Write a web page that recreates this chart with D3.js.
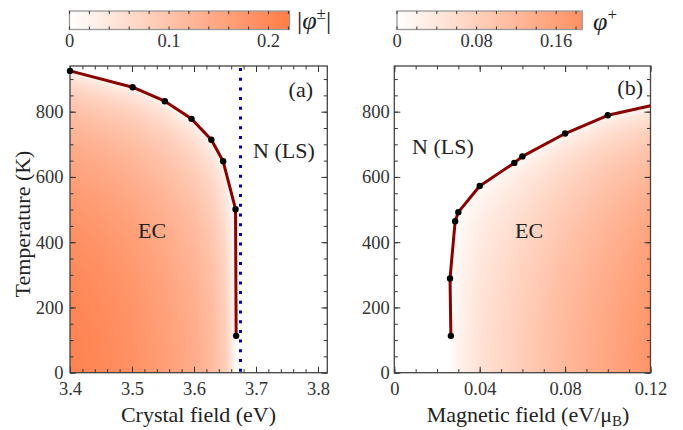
<!DOCTYPE html>
<html><head><meta charset="utf-8">
<script src="https://cdn.jsdelivr.net/npm/d3@7"></script>
<style>body{margin:0;background:#fff} svg text{font-family:"Liberation Serif","Tinos","Times New Roman","DejaVu Serif",serif !important}</style>
</head><body><svg id="c" width="683" height="430"></svg>
<script>
// ---- data ----
const crystalField = [3.4, 3.501, 3.553, 3.596, 3.628, 3.647, 3.667, 3.668];
const tempA = [925, 875, 832, 778, 714, 648, 501, 113];
const lsBoundary = 3.675;
const magField = [0.0265, 0.0261, 0.0285, 0.030, 0.040, 0.0562, 0.060, 0.080, 0.100];
const tempB = [113, 289, 464, 492, 572, 643, 663, 733, 789];
const magFieldEnd = [0.12];
const tempBEnd = [818];
const phiFieldA = [3.4, 3.45, 3.5, 3.55, 3.6, 3.63, 3.65, 3.66, 3.668];
const phiLowTA = [0.21, 0.2, 0.185, 0.165, 0.14, 0.115, 0.085, 0.045, 0];
const phiFieldB = [0.026, 0.03, 0.04, 0.06, 0.08, 0.1, 0.12];
const phiLowTB = [0, 0.02, 0.05, 0.085, 0.12, 0.15, 0.18];
const xTicksA = [3.4, 3.5, 3.6, 3.7, 3.8];
const xTicksB = [0, 0.04, 0.08, 0.12];
const yTicks = [0, 200, 400, 600, 800];
const cbTicksA = [0, 0.1, 0.2];
const cbTicksB = [0, 0.08, 0.16];

const FONT = '"Liberation Serif","Tinos","Times New Roman","DejaVu Serif",serif';
const svg = d3.select("#c");
const color = d3.scaleLinear().domain([0, 0.221]).range(["#ffffff", "#ff7c47"]).clamp(true);

function interp(xs, ys, x) {
  const n = xs.length;
  if (x <= xs[0]) return ys[0];
  if (x >= xs[n - 1]) return ys[n - 1];
  let i = 0;
  while (x > xs[i + 1]) i++;
  const t = (x - xs[i]) / (xs[i + 1] - xs[i]);
  return ys[i] + t * (ys[i + 1] - ys[i]);
}

const yTop = 66, yBot = 372.7;
const yScale = d3.scaleLinear().domain([0, 940]).range([yBot, yTop]);
const xA = d3.scaleLinear().domain([3.4, 3.815]).range([70, 327.3]);
const xB = d3.scaleLinear().domain([0, 0.12]).range([394.3, 650.5]);

const tcXA = crystalField.slice(0, 7), tcYA = tempA.slice(0, 7);
const tcXB = magField.slice(1).concat(magFieldEnd), tcYB = tempB.slice(1).concat(tempBEnd);

function heat(x, fieldFn) {
  const [x0, x1] = x.range();
  const w = Math.round(x1 - x0), h = Math.round(yBot - yTop);
  const cv = document.createElement("canvas");
  cv.width = w; cv.height = h;
  const ctx = cv.getContext("2d");
  const img = ctx.createImageData(w, h);
  for (let j = 0; j < h; j++) {
    const T = yScale.invert(yTop + j + 0.5);
    for (let i = 0; i < w; i++) {
      const v = fieldFn(x.invert(x0 + i + 0.5), T);
      const c = d3.rgb(color(v));
      const k = 4 * (j * w + i);
      img.data[k] = c.r; img.data[k + 1] = c.g; img.data[k + 2] = c.b; img.data[k + 3] = 255;
    }
  }
  ctx.putImageData(img, 0, 0);
  svg.append("image").attr("x", x0).attr("y", yTop).attr("width", w).attr("height", h)
    .attr("preserveAspectRatio", "none").attr("href", cv.toDataURL());
}

heat(xA, (cf, T) => {
  const p0 = interp(phiFieldA, phiLowTA, cf);
  if (p0 <= 0) return 0;
  const t = T / interp(tcXA, tcYA, cf);
  return t >= 1 ? 0 : p0 * Math.sqrt(1 - t * t);
});
heat(xB, (hf, T) => {
  const p0 = interp(phiFieldB, phiLowTB, hf);
  if (p0 <= 0) return 0;
  const t = T / interp(tcXB, tcYB, hf);
  return t >= 1 ? 0 : p0 * Math.sqrt(1 - t * t);
});

// ---- axes ----
function axes(x, xTicks, xMinor, xFmt, yPad) {
  const [x0, x1] = x.range();
  const g = svg.append("g");
  const style = s => { s.attr("font-family", FONT).attr("font-size", 18.5);
    s.select(".domain").remove(); s.selectAll("line").attr("stroke", "#333");
    s.selectAll("text").attr("font-size", 18.5).attr("fill", "#333").style("font-family", FONT); };
  g.append("g").attr("transform", `translate(0,${yBot})`).call(d3.axisBottom(x).tickValues(xTicks).tickSize(-6).tickPadding(9).tickFormat(xFmt)).call(style);
  g.append("g").attr("transform", `translate(0,${yBot})`).call(d3.axisBottom(x).tickValues(xMinor).tickSize(-3.5).tickFormat("")).call(style);
  g.append("g").attr("transform", `translate(0,${yTop})`).call(d3.axisTop(x).tickValues(xTicks).tickSize(-6).tickFormat("")).call(style);
  g.append("g").attr("transform", `translate(0,${yTop})`).call(d3.axisTop(x).tickValues(xMinor).tickSize(-3.5).tickFormat("")).call(style);
  const yMinor = d3.range(0, 950, 50);
  g.append("g").attr("transform", `translate(${x0},0)`).call(d3.axisLeft(yScale).tickValues(yTicks).tickSize(-6).tickPadding(yPad).tickFormat(d3.format("d"))).call(style);
  g.append("g").attr("transform", `translate(${x0},0)`).call(d3.axisLeft(yScale).tickValues(yMinor).tickSize(-3.5).tickFormat("")).call(style);
  g.append("g").attr("transform", `translate(${x1},0)`).call(d3.axisRight(yScale).tickValues(yTicks).tickSize(-6).tickFormat("")).call(style);
  g.append("g").attr("transform", `translate(${x1},0)`).call(d3.axisRight(yScale).tickValues(yMinor).tickSize(-3.5).tickFormat("")).call(style);
  g.append("rect").attr("x", x0).attr("y", yTop).attr("width", x1 - x0).attr("height", yBot - yTop)
    .attr("fill", "none").attr("stroke", "#444").attr("stroke-width", 1.3);
}
axes(xA, xTicksA, d3.range(0, 21).map(i => +(3.4 + i * 0.02).toFixed(2)), d3.format(".1f"), 6.5);
axes(xB, xTicksB, d3.range(0, 13).map(i => +(i * 0.01).toFixed(2)), d => d === 0 ? "0" : String(d), 4.5);

// LS boundary
svg.append("line").attr("x1", xA(lsBoundary)).attr("x2", xA(lsBoundary)).attr("y1", yTop + 2).attr("y2", yBot)
  .attr("stroke", "#0000b4").attr("stroke-width", 3).attr("stroke-dasharray", "3,6.7");

// boundary lines
const lineA = d3.line().x((d, i) => xA(crystalField[i])).y((d, i) => yScale(tempA[i]));
svg.append("path").attr("d", lineA(tempA)).attr("fill", "none").attr("stroke", "#8b0000").attr("stroke-width", 3).attr("stroke-linejoin", "round");
const ptsB = magField.map((m, i) => [m, tempB[i]]).concat(magFieldEnd.map((m, i) => [m, tempBEnd[i]]));
svg.append("path").attr("d", d3.line().x(d => xB(d[0])).y(d => yScale(d[1]))(ptsB))
  .attr("fill", "none").attr("stroke", "#8b0000").attr("stroke-width", 3).attr("stroke-linejoin", "round");
svg.selectAll("circle.a").data(crystalField).join("circle").attr("class", "a")
  .attr("cx", d => xA(d)).attr("cy", (d, i) => yScale(tempA[i])).attr("r", 3.2).attr("fill", "#000");
svg.selectAll("circle.b").data(magField).join("circle").attr("class", "b")
  .attr("cx", d => xB(d)).attr("cy", (d, i) => yScale(tempB[i])).attr("r", 3.2).attr("fill", "#000");

// labels
function txt(x, y, size, anchor) {
  return svg.append("text").attr("x", x).attr("y", y).attr("font-size", size).attr("fill", "#222")
    .attr("text-anchor", anchor || "start").style("font-family", FONT);
}
txt(313, 97, 22, "end").text("(a)");
txt(253, 157.5, 22).text("N (LS)");
txt(138, 238, 22).text("EC");
txt(643, 94.5, 22, "end").text("(b)");
txt(412, 154, 22).text("N (LS)");
txt(515, 238, 22).text("EC");

txt(198.5, 422, 22, "middle").text("Crystal field (eV)");
const mt = txt(528, 422, 22, "middle");
mt.append("tspan").text("Magnetic field (eV/μ");
mt.append("tspan").attr("font-size", 15).attr("dy", 4).text("B");
mt.append("tspan").attr("dy", -4).text(")");
txt(0, 0, 22, "middle").attr("transform", "translate(30,224) rotate(-90)").text("Temperature (K)");

// ---- colorbars ----
const defs = svg.append("defs");
function colorbar(id, x, ticks, maxV) {
  const [x0, x1] = x.range();
  const grad = defs.append("linearGradient").attr("id", id);
  d3.range(0, 11).forEach(i => grad.append("stop").attr("offset", i / 10).attr("stop-color", color(maxV * i / 10)));
  const y0 = 11, y1 = 29.5;
  svg.append("rect").attr("x", x0).attr("y", y0).attr("width", x1 - x0).attr("height", y1 - y0)
    .attr("fill", `url(#${id})`).attr("stroke", "#999").attr("stroke-width", 1.3);
  const minor = d3.range(0, Math.floor(maxV / 0.02 + 1e-6) + 1).map(i => i * 0.02);
  const g = svg.append("g");
  g.selectAll("line.t").data(minor).join("line").attr("x1", d => x(d)).attr("x2", d => x(d)).attr("y1", y0).attr("y2", y0 + 3).attr("stroke", "#333");
  g.selectAll("line.b").data(minor).join("line").attr("x1", d => x(d)).attr("x2", d => x(d)).attr("y1", y1 - 3).attr("y2", y1).attr("stroke", "#333");
  ticks.forEach(d => txt(x(d), 47, 18.5, "middle").attr("fill", "#333").text(d === 0 ? "0" : String(d)));
}
const cbA = d3.scaleLinear().domain([0, 0.2211]).range([69.5, 289.5]);
const cbB = d3.scaleLinear().domain([0, 0.1862]).range([397, 582.2]);
colorbar("gA", cbA, cbTicksA, 0.2211);
colorbar("gB", cbB, cbTicksB, 0.1862);

const la = txt(297, 29, 26);
la.append("tspan").text("|");
la.append("tspan").attr("font-style", "italic").text("φ");
la.append("tspan").attr("font-size", 17).attr("dy", -10).text("±");
la.append("tspan").attr("dy", 10).text("|");
const lb = txt(593, 30, 26);
lb.append("tspan").attr("font-style", "italic").text("φ");
lb.append("tspan").attr("font-size", 17).attr("dy", -10).text("+");
</script></body></html>
